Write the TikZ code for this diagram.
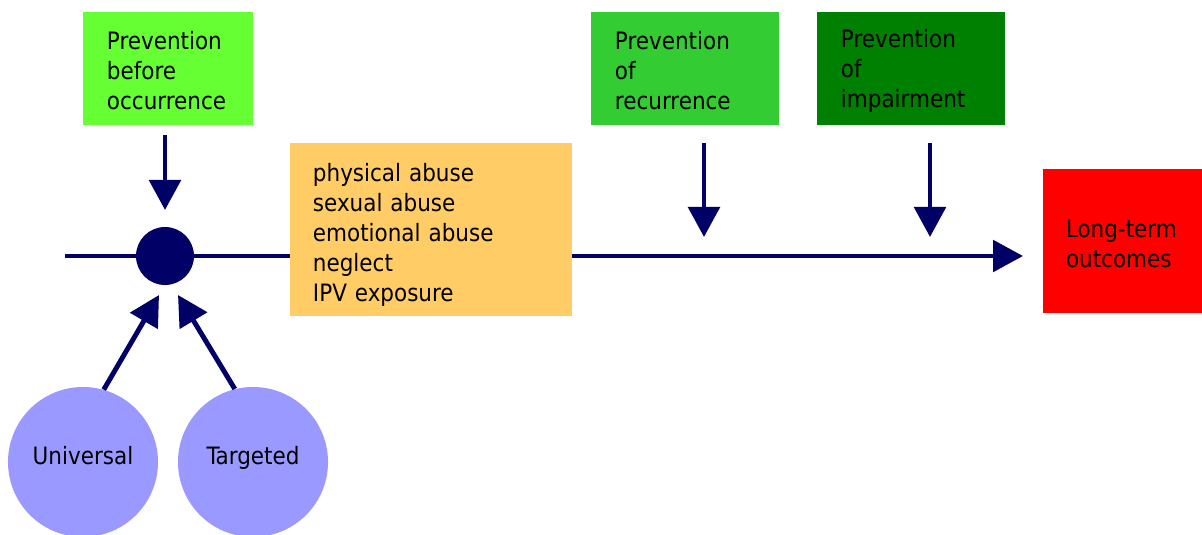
\documentclass[tikz,border=0pt]{standalone}
\usepackage{fontspec}
\setmainfont{DejaVu Sans Condensed}
\usepackage{tikz}
\usetikzlibrary{arrows.meta}
\usetikzlibrary{positioning}
\definecolor{mnavy}{HTML}{000066}
\definecolor{mlime}{HTML}{66FF33}
\definecolor{mgreen}{HTML}{33CC33}
\definecolor{mdark}{HTML}{008000}
\definecolor{morange}{HTML}{FFCC66}
\definecolor{mviolet}{HTML}{9999FF}
\newcommand{\toprule}[1]{\rule{0pt}{#1}}
\tikzset{pbox/.style = {minimum height = 2.825cm, inner xsep = 0.6cm, align = left,
    font = \fontsize{17}{21.3}\selectfont, execute at begin node = {\toprule{0.95em}}},
  arr/.style = {mnavy, line width = 3.5pt, -{Triangle[length = 0.75cm, width = 0.78cm]}},
  blob/.style = {circle, fill = mviolet, minimum size = 3.75cm, inner sep = 0,
    text height = 0.6em, text depth = 0.3em, font = \fontsize{17}{21.3}\selectfont}}

\begin{document}
\begin{tikzpicture}[x = 0.025cm, y = -0.025cm]
    \useasboundingbox (0, 0) rectangle (1202, 534);

    \node [pbox, fill = mlime, text width = 3.05cm] (before) at (168, 68.5) {Prevention\\before\\occurrence};
    \node [pbox, fill = mgreen, text width = 3.5cm] (recur) at (685, 68.5) {Prevention\\of\\recurrence};
    \node [pbox, fill = mdark, text width = 3.5cm] (impair) at (911, 68.5) {Prevention\\of\\impairment};
    \node [pbox, fill = morange, minimum height = 4.325cm, inner xsep = 0.575cm, text width = 5.9cm,
      execute at begin node = {\toprule{1.2em}}] (abuse) at (431, 229.5)
      {physical abuse\\sexual abuse\\emotional abuse\\neglect\\IPV exposure};
    \node [pbox, fill = red, minimum height = 3.6cm, inner xsep = 0.575cm, text width = 2.825cm] (outcome) at (1122.5, 241)
      {Long-term\\outcomes};

    \node [circle, fill = mnavy, minimum size = 1.45cm, inner sep = 0] (dot) at (165, 256) {};
    \node [blob] (univ) at (83, 462) {Universal};
    \node [blob] (targ) at (253, 462) {Targeted};

    \coordinate (start) at (65, 256);
    \coordinate (end) at (1023, 256);
    \draw [mnavy, line width = 3.5pt] (start) -- (dot) -- (abuse.west |- dot);
    \draw [arr] (abuse.east |- end) -- (end);

    \coordinate (before top) at (165, 135);
    \coordinate (before tip) at (165, 210);
    \coordinate (recur top) at (704, 143);
    \coordinate (recur tip) at (704, 237);
    \coordinate (impair top) at (930, 143);
    \coordinate (impair tip) at (930, 237);
    \draw [arr] (before top) -- (before tip);
    \draw [arr] (recur top) -- (recur tip);
    \draw [arr] (impair top) -- (impair tip);

    \coordinate (univ tip) at (159, 295);
    \coordinate (targ tip) at (178, 295);
    \draw [arr] (univ.74) -- (univ tip);
    \draw [arr] (targ.104) -- (targ tip);
  \end{tikzpicture}
\end{document}
